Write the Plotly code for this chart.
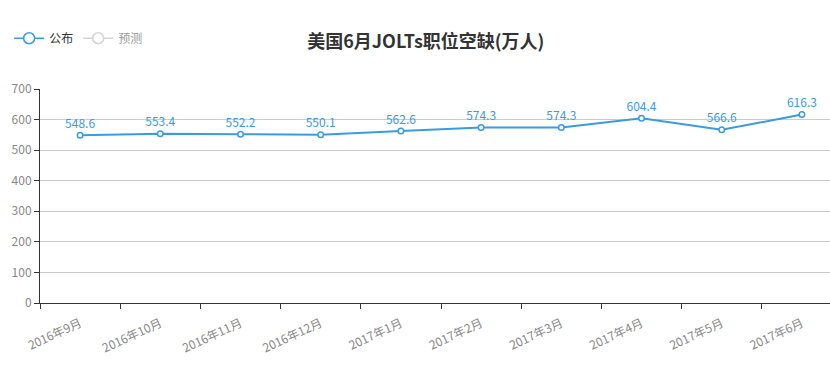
import plotly.graph_objects as go

categories = ["2016年9月", "2016年10月", "2016年11月", "2016年12月", "2017年1月",
              "2017年2月", "2017年3月", "2017年4月", "2017年5月", "2017年6月"]
published = [548.6, 553.4, 552.2, 550.1, 562.6, 574.3, 574.3, 604.4, 566.6, 616.3]
forecast = [None] * len(categories)
y_ticks = [0, 100, 200, 300, 400, 500, 600, 700]

FONT = "Noto Sans CJK SC, Microsoft YaHei, sans-serif"
BLUE = "#3a9be3"

fig = go.Figure()
fig.add_trace(go.Scatter(
    x=categories, y=published, name="公布", mode="lines+markers+text",
    line=dict(color=BLUE, width=2),
    marker=dict(symbol="circle", size=5.5, color="white", line=dict(color=BLUE, width=1.5)),
    text=[f"{v:.1f}" for v in published], textposition="top center",
    textfont=dict(color=BLUE, size=12, family=FONT),
    cliponaxis=False, showlegend=False, legendgroup="pub",
))
# legend entry for the published series (larger symbol as in the reference)
fig.add_trace(go.Scatter(
    x=[None], y=[None], name="公布", mode="lines+markers",
    line=dict(color=BLUE, width=1.5), legendgroup="pub",
    marker=dict(symbol="circle", size=11, color="white", line=dict(color=BLUE, width=1.5)),
))
fig.add_trace(go.Scatter(
    x=categories, y=forecast, name="预测", mode="lines+markers",
    line=dict(color="#aaaaaa", width=1.5),
    marker=dict(symbol="circle", size=11, color="white", line=dict(color="#aaaaaa", width=1.5)),
    visible="legendonly",
))

fig.update_layout(
    width=830, height=375,
    margin=dict(l=40, r=0, t=89, b=72, autoexpand=False),
    paper_bgcolor="white", plot_bgcolor="white",
    font=dict(family=FONT, size=12, color="#333"),
    title=dict(text="<b>美国6月JOLTs职位空缺(万人)</b>", x=0.513, xanchor="center",
               xref="container", yref="container",
               y=0.888, yanchor="middle", font=dict(size=18, color="#333", family=FONT)),
    showlegend=True,
    legend=dict(orientation="h", x=0.011, y=0.898, xanchor="left", yanchor="middle",
                xref="container", yref="container", font=dict(size=12, color="#333"),
                bgcolor="rgba(0,0,0,0)"),
    xaxis=dict(
        type="category", range=[-0.5, 9.35], automargin=False,
        tickson="boundaries", ticks="outside", ticklen=5, tickcolor="#333",
        showline=True, linecolor="#333", linewidth=1,
        showgrid=False, tickangle=-25, ticklabelstandoff=8,
        tickfont=dict(color="#888", size=12, family=FONT),
    ),
    yaxis=dict(
        range=[0, 700], tickvals=y_ticks, ticks="outside", ticklen=5, tickcolor="#333",
        showline=True, linecolor="#333", linewidth=1, automargin=False,
        showgrid=True, gridcolor="#cccccc", gridwidth=1, zeroline=False,
        tickfont=dict(color="#888", size=12, family=FONT),
    ),
)

fig.write_html("out.html", post_script="document.body.style.margin='0';",
               config={"displayModeBar": False})
